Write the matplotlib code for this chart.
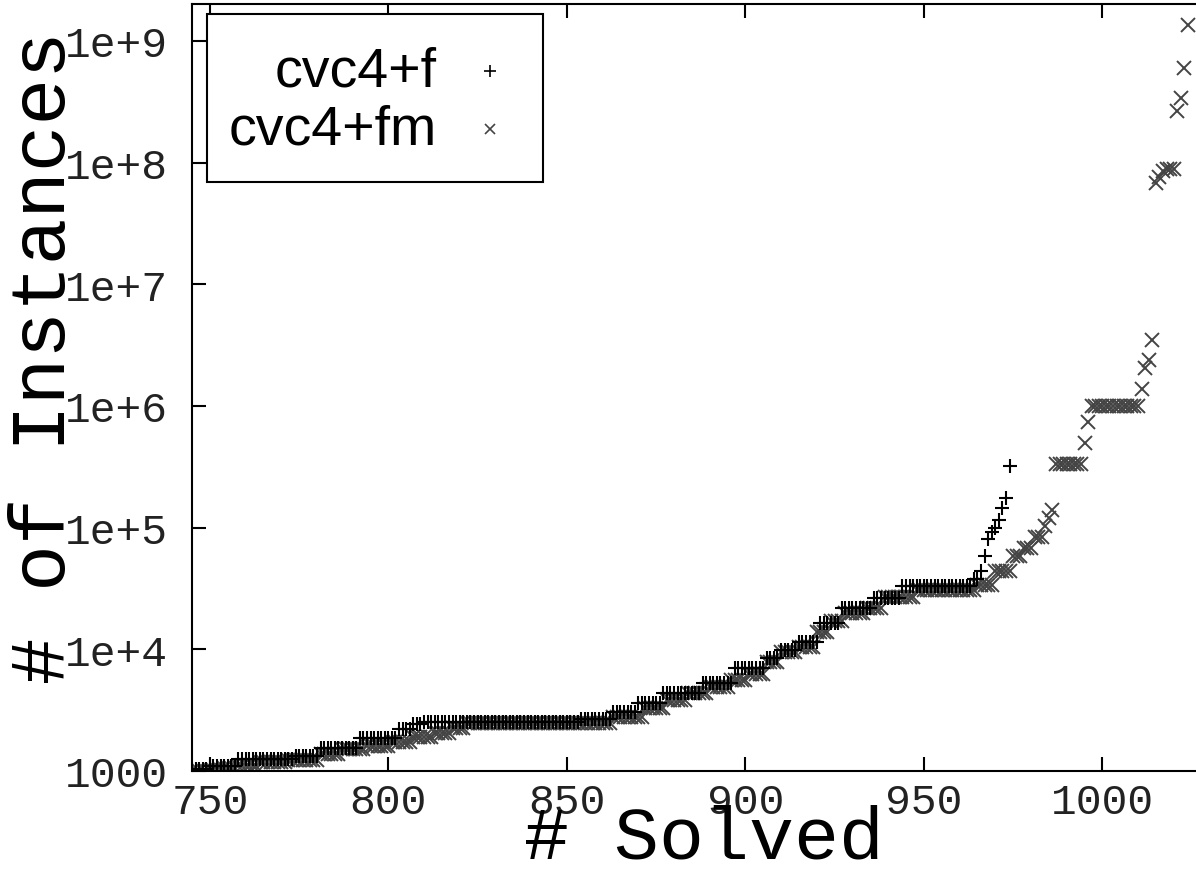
import numpy as np
import matplotlib
matplotlib.use("Agg")
import matplotlib.pyplot as plt
from matplotlib.patches import Rectangle

# first rank shown on the x axis
x_start = 745

# cvc4+f : plateau values and how many ranks each one covers
f_values = [1030, 1100, 1250, 1330, 1550, 1880, 2200, 2430, 2550, 2670,
            3070, 3600, 4370, 5300, 7000, 8500, 9800, 11500, 16400, 22000,
            26500, 33000, 38000, 44000, 59000, 81000, 92000, 100000, 116000,
            144000, 175000, 320000]
f_counts = [5, 8, 16, 7, 11, 11, 4, 3, 44, 9,
            7, 7, 11, 9, 9, 4, 5, 6, 6, 9,
            8, 20, 2, 1, 1, 1, 1, 1, 1,
            1, 1, 1]

# cvc4+fm
fm_values = [1000, 1020, 1060, 1100, 1180, 1230, 1380, 1520, 1600, 1730,
             1900, 2050, 2250, 2500, 2800, 3300, 3800, 4400, 4900, 5600,
             6300, 7800, 9500, 10500, 14000, 17000, 20000, 22000, 27000, 31000,
             34000, 44000, 58000, 68000, 83000, 103000, 120000, 140000, 334000,
             495000, 735000, 1.0e6, 1.39e6, 2.06e6, 2.37e6, 3.5e6, 6.8e7,
             7.6e7, 8.5e7, 8.9e7, 2.67e8, 3.4e8, 6.0e8, 1.34e9]
fm_counts = [5, 4, 4, 6, 8, 9, 6, 7, 7, 6,
             6, 5, 4, 41, 9, 6, 6, 6, 6, 5,
             5, 4, 5, 5, 4, 4, 6, 5, 9, 17,
             5, 5, 3, 3, 3, 1, 1, 1, 8,
             1, 1, 14, 1, 1, 1, 1, 1,
             1, 1, 3, 1, 1, 1, 1]

y_ticks = [1e3, 1e4, 1e5, 1e6, 1e7, 1e8, 1e9]
y_labels = ["1000", "1e+4", "1e+5", "1e+6", "1e+7", "1e+8", "1e+9"]
x_ticks = [750, 800, 850, 900, 950, 1000]

f_y = np.repeat(f_values, f_counts)
fm_y = np.repeat(fm_values, fm_counts)
f_x = x_start + np.arange(len(f_y))
fm_x = x_start + np.arange(len(fm_y))

mono = "Liberation Mono"

fig = plt.figure(figsize=(11.96, 8.7), dpi=100)
ax = fig.add_axes([192 / 1196, 98 / 870, 1024.6 / 1196, 767 / 870])

ax.plot(fm_x, fm_y, linestyle="none", marker="x", markersize=9.5,
        markeredgewidth=1.4, color="#444444")
ax.plot(f_x, f_y, linestyle="none", marker="+", markersize=10.5,
        markeredgewidth=1.5, color="black")

ax.set_yscale("log")
ax.set_xlim(745, 1032)
ax.set_ylim(1000, 2.01e9)
ax.set_yticks(y_ticks)
ax.set_yticklabels(y_labels)
ax.set_xticks(x_ticks)
ax.minorticks_off()
ax.yaxis.set_minor_locator(matplotlib.ticker.NullLocator())

ax.tick_params(direction="in", length=10, width=1.5, top=True, right=True,
               labelsize=31, colors="black")
ax.tick_params(axis="y", pad=17)
ax.tick_params(axis="x", pad=8)
for lab in ax.get_xticklabels() + ax.get_yticklabels():
    lab.set_fontfamily(mono)
    lab.set_color("#222222")

for side in ["left", "bottom", "top"]:
    ax.spines[side].set_linewidth(1.5)
ax.spines["right"].set_visible(False)

ax.set_xlabel("# Solved", fontsize=54, fontfamily=mono)
ax.set_ylabel("# of Instances", fontsize=56, fontfamily=mono)
ax.xaxis.set_label_coords(0.5, -0.042)
ax.yaxis.set_label_coords(-0.108, 0.54)

# gnuplot style key: text right aligned, sample to the right
ax.add_patch(Rectangle((0.0146, 0.768), 0.328, 0.219, transform=ax.transAxes,
                       facecolor="white", edgecolor="black", linewidth=1.5,
                       zorder=5))
ax.text(0.239, 0.9126, "cvc4+f", transform=ax.transAxes, ha="right",
        va="center", fontsize=40, fontfamily="Liberation Sans", zorder=6)
ax.text(0.239, 0.837, "cvc4+fm", transform=ax.transAxes, ha="right",
        va="center", fontsize=40, fontfamily="Liberation Sans", zorder=6)
ax.plot([0.291], [0.9126], transform=ax.transAxes, marker="+", markersize=9,
        markeredgewidth=1.2, color="black", zorder=6, clip_on=False)
ax.plot([0.291], [0.837], transform=ax.transAxes, marker="x", markersize=7,
        markeredgewidth=1.2, color="#444444", zorder=6, clip_on=False)

fig.savefig("out.png", dpi=100)
